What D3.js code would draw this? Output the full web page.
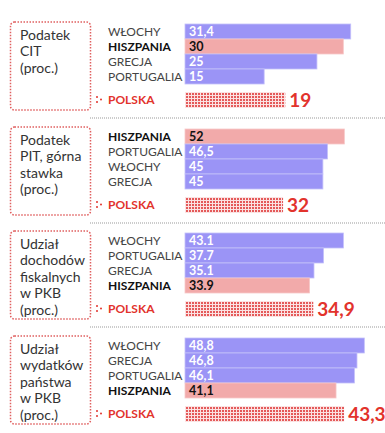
<!DOCTYPE html>
<html>
<head>
<meta charset="utf-8">
<script src="https://cdn.jsdelivr.net/npm/d3@7"></script>
<style>
  body { margin: 0; background: #fff; }
  svg { display: block; font-family: Lato, "Open Sans", sans-serif; }
</style>
</head>
<body>
<svg id="chart" width="385" height="433"></svg>
<script>
// panel titles (box on the left)
var titles = [
  ["Podatek", "CIT", "(proc.)"],
  ["Podatek", "PIT, górna", "stawka", "(proc.)"],
  ["Udział", "dochodów", "fiskalnych", "w PKB", "(proc.)"],
  ["Udział", "wydatków", "państwa", "w PKB", "(proc.)"]
];
var countries = [
  ["WŁOCHY", "HISZPANIA", "GRECJA", "PORTUGALIA"],
  ["HISZPANIA", "PORTUGALIA", "WŁOCHY", "GRECJA"],
  ["WŁOCHY", "PORTUGALIA", "GRECJA", "HISZPANIA"],
  ["WŁOCHY", "GRECJA", "PORTUGALIA", "HISZPANIA"]
];
var values = [
  [31.4, 30, 25, 15],
  [52, 46.5, 45, 45],
  [43.1, 37.7, 35.1, 33.9],
  [48.8, 46.8, 46.1, 41.1]
];
var valueLabels = [
  ["31,4", "30", "25", "15"],
  ["52", "46,5", "45", "45"],
  ["43.1", "37.7", "35.1", "33.9"],
  ["48,8", "46,8", "46,1", "41,1"]
];
var polska = [19, 32, 34.9, 43.3];
var polskaLabels = ["19", "32", "34,9", "43,3"];
// each panel has its own scale
var scaleMax = [36, 62, 51.7, 51.7];

var blue = '#9b94f6', pink = '#f2aaaa', red = '#e2332c';
var svg = d3.select('#chart');

var defs = svg.append('defs');
var pat = defs.append('pattern').attr('id', 'dots')
  .attr('width', 3).attr('height', 3).attr('patternUnits', 'userSpaceOnUse');
pat.append('rect').attr('width', 3).attr('height', 3).attr('fill', '#fbe3e3');
pat.append('rect').attr('width', 2).attr('height', 2).attr('fill', '#e45a5a');

var x0 = 185, barW = 190;
var tops = [24, 129, 233, 338];

titles.forEach(function(t, i) {
  var g = svg.append('g').attr('transform', 'translate(0,' + tops[i] + ')');
  var x = d3.scaleLinear().domain([0, scaleMax[i]]).range([0, barW]);
  var y = d3.scaleBand().domain(countries[i]).range([0, 60]).padding(0);

  // title box
  g.append('rect').attr('x', 10.5).attr('y', -2).attr('width', 80).attr('height', 88)
    .attr('rx', 4).attr('fill', 'none').attr('stroke', '#e06060')
    .attr('stroke-width', 1.5).attr('stroke-dasharray', '1.5,1.5');
  g.selectAll('text.title').data(t).enter().append('text')
    .attr('class', 'title').attr('x', 20).attr('y', function(d, j) { return 16 + j * 16.4; })
    .attr('font-size', 14).attr('fill', '#333').text(function(d) { return d; });

  var rows = g.selectAll('g.row').data(countries[i]).enter().append('g').attr('class', 'row');
  rows.append('text').attr('x', 108).attr('y', function(d) { return y(d) + y.bandwidth() / 2 + 4; })
    .attr('font-size', 12).attr('fill', function(d) { return d === 'HISZPANIA' ? '#111' : '#444'; })
    .attr('font-weight', function(d) { return d === 'HISZPANIA' ? 'bold' : 'normal'; })
    .text(function(d) { return d; });
  rows.append('rect').attr('x', x0).attr('y', function(d) { return y(d); })
    .attr('width', function(d, j) { return x(values[i][j]); })
    .attr('height', y.bandwidth())
    .attr('fill', function(d) { return d === 'HISZPANIA' ? pink : blue; })
    .attr('stroke', function(d) { return d === 'HISZPANIA' ? '#f7c8c8' : '#c4c0fb'; })
    .attr('stroke-width', 0.8);
  rows.append('text').attr('x', x0 + 4).attr('y', function(d) { return y(d) + y.bandwidth() / 2 + 4.5; })
    .attr('font-size', 12.5).attr('font-weight', 'bold')
    .attr('fill', function(d) { return d === 'HISZPANIA' ? '#111' : '#fff'; })
    .text(function(d, j) { return valueLabels[i][j]; });

  // Polska row
  var py = 68;
  g.append('circle').attr('cx', 97).attr('cy', py + 5).attr('r', 1).attr('fill', red);
  g.append('circle').attr('cx', 97).attr('cy', py + 10).attr('r', 1).attr('fill', red);
  g.append('circle').attr('cx', 101).attr('cy', py + 7.5).attr('r', 1).attr('fill', red);
  g.append('text').attr('x', 108).attr('y', py + 12).attr('font-size', 12)
    .attr('font-weight', 'bold').attr('fill', red).text('POLSKA');
  g.append('rect').attr('x', x0).attr('y', py).attr('width', x(polska[i])).attr('height', 16)
    .attr('fill', 'url(#dots)');
  g.append('text').attr('x', x0 + x(polska[i]) + 4).attr('y', py + 15)
    .attr('font-size', 19).attr('font-weight', 'bold').attr('fill', red)
    .text(polskaLabels[i]);

  if (i < 3) {
    g.append('line').attr('x1', 90).attr('x2', 385).attr('y1', 94).attr('y2', 94)
      .attr('stroke', '#999').attr('stroke-width', 1.2).attr('stroke-dasharray', '1,1');
  }
});
</script>
</body>
</html>
